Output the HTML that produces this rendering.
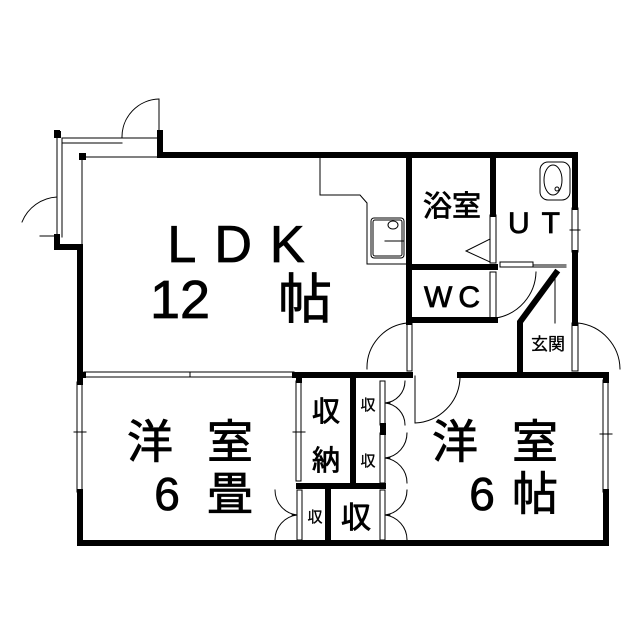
<!DOCTYPE html>
<html><head><meta charset="utf-8"><style>
html,body{margin:0;padding:0;background:#fff;}
svg{display:block}
text{font-family:"Liberation Sans","Noto Sans CJK JP",sans-serif;fill:#000;stroke:#000;stroke-width:0.8;}
</style></head><body>
<svg width="640" height="640" viewBox="0 0 640 640" xmlns="http://www.w3.org/2000/svg">
<g fill="none" stroke="#000" stroke-linecap="square">
<g stroke-width="6">
<polyline points="160,133 160,155 575,155 575,207"/>
<line x1="575" y1="253" x2="575" y2="323"/>
<polyline points="57,133 57,135"/>
<polyline points="57,237 57,247 80,247 80,375 83,375"/>
<line x1="295" y1="375" x2="410" y2="375"/>
<line x1="460" y1="375" x2="606" y2="375"/>
<line x1="409" y1="155" x2="409" y2="322"/>
<line x1="493" y1="155" x2="493" y2="214"/>
<line x1="409" y1="267" x2="495" y2="267"/>
<line x1="409" y1="320" x2="495" y2="320"/>
<polyline points="556,273 520,322 520,374"/>
<line x1="80" y1="375" x2="80" y2="382"/>
<line x1="80" y1="492" x2="80" y2="543"/>
<line x1="80" y1="543" x2="606" y2="543"/>
<line x1="606" y1="375" x2="606" y2="380"/>
<line x1="606" y1="492" x2="606" y2="543"/>
<line x1="353" y1="375" x2="353" y2="486"/>
<line x1="299" y1="486" x2="383" y2="486"/>
<line x1="328" y1="486" x2="328" y2="543"/>
<line x1="383" y1="426" x2="383" y2="432"/>
<line x1="299" y1="375" x2="299" y2="380"/>
</g>
<rect x="54" y="131" width="7" height="7" fill="#000" stroke="none"/>
<rect x="79" y="153" width="7" height="7" fill="#000" stroke="none"/>
<g stroke-width="1">
<polyline points="57,138 57,237"/>
<polyline points="62,138 62,237"/>
<polyline points="62,138 160,138"/>
<polyline points="62,143 122,143"/>
<line x1="82" y1="157" x2="82" y2="247"/>
<line x1="84" y1="157" x2="160" y2="157"/>
<line x1="159" y1="99" x2="159" y2="133"/>
<path d="M159,99 A38,38 0 0 0 122,138"/>
<line x1="40" y1="236" x2="57" y2="236"/>
<path d="M57,197 A40,40 0 0 0 22,222"/>
<rect x="84" y="372" width="210" height="5"/>
<line x1="190" y1="372" x2="190" y2="377"/>
<polyline points="320,157 320,195 360,195 367,203 367,264 408,264"/>
<rect x="371" y="218" width="33" height="40" rx="3"/>
<rect x="373" y="220" width="29" height="36" rx="2"/>
<ellipse cx="393" cy="225" rx="5" ry="4"/>
<line x1="385" y1="241" x2="404" y2="241"/>
<rect x="490" y="215" width="6" height="48"/>
<polyline points="490,239 466,251 490,262"/>
<rect x="540" y="162" width="30" height="38" rx="8"/>
<ellipse cx="553" cy="180" rx="9" ry="15"/>
<circle cx="557" cy="189" r="2"/>
<rect x="572" y="208" width="6" height="44"/>
<line x1="570" y1="230" x2="580" y2="230"/>
<rect x="500" y="262" width="33" height="5"/>
<line x1="533" y1="267" x2="566" y2="267"/>
<line x1="533" y1="265" x2="566" y2="265"/>
<line x1="555" y1="270" x2="555" y2="323"/>
<rect x="490" y="272" width="6" height="46"/>
<path d="M496,318 A48,48 0 0 0 536,272"/>
<rect x="407" y="323" width="5" height="48"/>
<path d="M407,323 A45,45 0 0 0 367,369"/>
<rect x="572" y="323" width="6" height="48"/>
<path d="M578,323 A47,47 0 0 1 620,369"/>
<rect x="77" y="382" width="5" height="110"/>
<line x1="74" y1="432" x2="86" y2="432"/>
<rect x="603" y="380" width="5" height="112"/>
<line x1="600" y1="434" x2="612" y2="434"/>
<rect x="296" y="381" width="5" height="100"/>
<line x1="293" y1="432" x2="305" y2="432"/>
<line x1="415" y1="376" x2="415" y2="423"/>
<path d="M415,423 A47,47 0 0 0 460,378"/>
<rect x="380" y="381" width="5" height="44"/>
<rect x="380" y="433" width="5" height="50"/>
<rect x="380" y="490" width="5" height="50"/>
<path d="M405,381 A22,22 0 0 1 385,403 L390,403 M405,425 A22,22 0 0 0 385,403"/>
<path d="M407,433 A25,25 0 0 1 385,458 L390,458 M407,483 A25,25 0 0 0 385,458"/>
<path d="M407,490 A25,25 0 0 1 385,515 L390,515 M407,540 A25,25 0 0 0 385,515"/>
<rect x="297" y="490" width="5" height="50"/>
<path d="M275,490 A25,25 0 0 0 297,515 L292,515 M275,540 A25,25 0 0 1 297,515"/>
</g>
</g>
<g>
<text x="245" y="262" font-size="52" text-anchor="middle" letter-spacing="18">LDK</text>
<text x="180" y="318" font-size="54" text-anchor="middle">12</text>
<text x="305" y="318" font-size="54" text-anchor="middle">帖</text>
<text x="452" y="216" font-size="29" text-anchor="middle">浴室</text>
<text x="540" y="233" font-size="30" text-anchor="middle" letter-spacing="12">UT</text>
<text x="455" y="307" font-size="30" text-anchor="middle" letter-spacing="6">WC</text>
<text x="548" y="350" font-size="17" text-anchor="middle" style="stroke-width:0.3">玄関</text>
<text x="150" y="458" font-size="46" text-anchor="middle">洋</text>
<text x="230" y="458" font-size="46" text-anchor="middle">室</text>
<text x="167" y="510" font-size="46" text-anchor="middle">6</text>
<text x="230" y="510" font-size="46" text-anchor="middle">畳</text>
<text x="455" y="458" font-size="46" text-anchor="middle">洋</text>
<text x="535" y="458" font-size="46" text-anchor="middle">室</text>
<text x="482" y="510" font-size="46" text-anchor="middle">6</text>
<text x="535" y="510" font-size="46" text-anchor="middle">帖</text>
<text x="326" y="421" font-size="28" text-anchor="middle">収</text>
<text x="326" y="470" font-size="28" text-anchor="middle">納</text>
<text x="368" y="410" font-size="15" text-anchor="middle" style="stroke-width:0.3">収</text>
<text x="368" y="466" font-size="15" text-anchor="middle" style="stroke-width:0.3">収</text>
<text x="315" y="522" font-size="15" text-anchor="middle" style="stroke-width:0.3">収</text>
<text x="356" y="528" font-size="30" text-anchor="middle">収</text>
</g>
</svg>
</body></html>
